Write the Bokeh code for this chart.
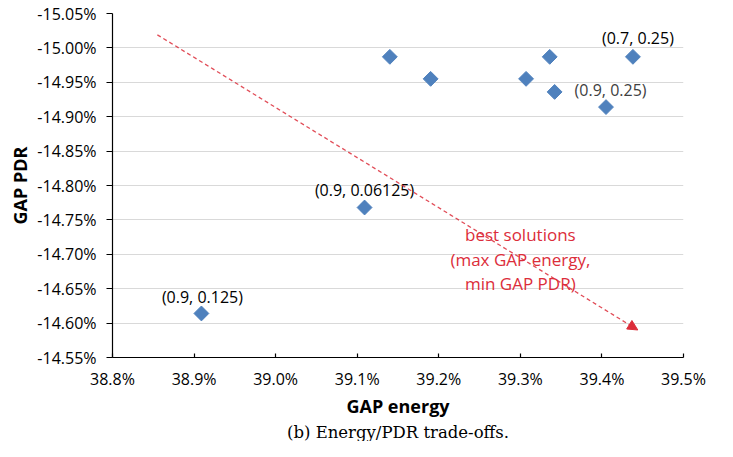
from math import pi
from bokeh.plotting import figure
from bokeh.models import (Range1d, FixedTicker, PrintfTickFormatter, Arrow, NormalHead,
                          ColumnDataSource, Title)
from bokeh.core.properties import value
from bokeh.embed import file_html
from bokeh.resources import INLINE

# ---- data (percent) ----
gap_energy = [39.140, 39.190, 39.307, 39.336, 39.342, 39.405, 39.438, 39.109, 38.909]
gap_pdr = [-14.987, -14.955, -14.955, -14.987, -14.936, -14.914, -14.987, -14.768, -14.614]

label_idx = [6, 4, 7, 8]
label_text = ["(0.7, 0.25)", "(0.9, 0.25)", "(0.9, 0.06125)", "(0.9, 0.125)"]

x_ticks = [38.8, 38.9, 39.0, 39.1, 39.2, 39.3, 39.4, 39.5]
y_ticks = [-15.05, -15.00, -14.95, -14.90, -14.85, -14.80, -14.75, -14.70, -14.65, -14.60, -14.55]

arrow_x = [38.855, 39.444]
arrow_y = [-15.019, -14.590]
note_x = [39.300]
note_y = [-14.693]
note_text = ["best solutions\n(max GAP energy,\nmin GAP PDR)"]

# ---- styles ----
FONT = "Open Sans"
BLUE = "#4f81bd"
RED = "#dc2d3a"
label_colors = ["#000000", "#404040", "#000000", "#000000"]
label_align = ["center", "left", "center", "center"]
label_dx = [5, 20, 0, 1]
label_dy = [-19, -2, -18, -16]

p = figure(width=717, height=441, output_backend="svg", toolbar_location=None,
           x_range=Range1d(x_ticks[0], x_ticks[-1]),
           y_range=Range1d(y_ticks[-1], y_ticks[0]),
           min_border_left=112, min_border_right=34, min_border_top=13, min_border_bottom=84)
p.outline_line_color = None
p.background_fill_color = "white"
p.border_fill_color = "white"

p.xgrid.visible = False
p.ygrid.grid_line_color = "#d9d9d9"
p.ygrid.grid_line_width = 1

p.xaxis.ticker = FixedTicker(ticks=x_ticks)
p.yaxis.ticker = FixedTicker(ticks=y_ticks)
p.xaxis.formatter = PrintfTickFormatter(format="%.1f%%")
p.yaxis.formatter = PrintfTickFormatter(format="%.2f%%")

for ax in (p.xaxis, p.yaxis):
    ax.axis_line_color = "#000000"
    ax.axis_line_width = 1.2
    ax.major_tick_line_color = "#000000"
    ax.major_tick_line_width = 1.2
    ax.minor_tick_line_color = None
    ax.major_label_text_font = FONT
    ax.major_label_text_font_size = "16px"
    ax.major_label_text_color = "#000000"
    ax.axis_label_text_font = FONT
    ax.axis_label_text_font_size = "18px"
    ax.axis_label_text_font_style = "bold"
    ax.axis_label_text_color = "#000000"

p.xaxis.major_tick_in = 4
p.xaxis.major_tick_out = 0
p.xaxis.major_label_standoff = 10
p.xaxis.axis_label = "GAP energy"
p.xaxis.axis_label_standoff = 1

p.yaxis.major_tick_in = 0
p.yaxis.major_tick_out = 6
p.yaxis.major_label_standoff = 10
p.yaxis.axis_label = "GAP PDR"
p.yaxis.axis_label_standoff = 2

# points
p.scatter(gap_energy, gap_pdr, marker="square", angle=pi / 4, size=10.5,
          fill_color=BLUE, line_color=BLUE)

# point labels
src = ColumnDataSource(dict(
    x=[gap_energy[i] for i in label_idx],
    y=[gap_pdr[i] for i in label_idx],
    text=label_text, color=label_colors, align=label_align,
    dx=label_dx, dy=label_dy))
p.text(x="x", y="y", text="text", source=src, text_color="color", text_align="align",
       x_offset="dx", y_offset="dy", text_baseline="middle",
       text_font=value(FONT), text_font_size="16px")

# arrow and note
p.add_layout(Arrow(end=NormalHead(size=10, fill_color=RED, line_color=RED),
                   x_start=arrow_x[0], y_start=arrow_y[0], x_end=arrow_x[1], y_end=arrow_y[1],
                   line_color=RED, line_width=1.3, line_dash="4 3", line_alpha=0.85))
p.text(x=note_x, y=note_y, text=note_text, text_color=RED, text_align="center",
       text_baseline="middle", text_line_height=1.05,
       text_font=value(FONT), text_font_size="17px")

# caption
cap = Title(text="(b) Energy/PDR trade-offs.", align="center",
            text_font="DejaVu Serif", text_font_size="16.5px", text_font_style="normal",
            text_color="#000000", standoff=0)
p.add_layout(cap, "below")

open("out.html", "w").write(file_html(p, INLINE))
